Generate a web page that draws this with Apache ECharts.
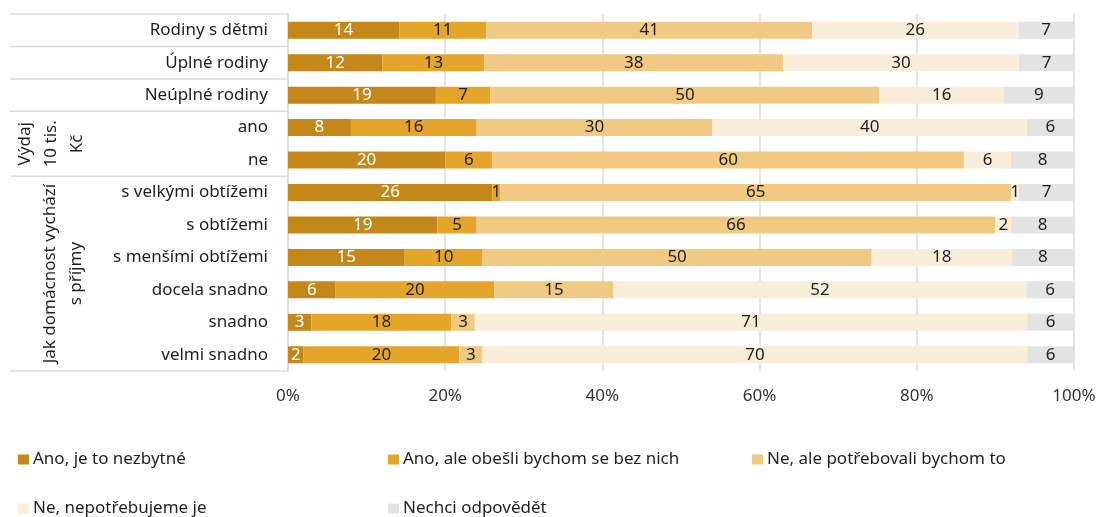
<!DOCTYPE html>
<html>
<head>
<meta charset="utf-8">
<script src="https://cdn.jsdelivr.net/npm/echarts@6/dist/echarts.min.js"></script>
<style>
  html, body { margin: 0; padding: 0; background: #fff; }
  #chart { width: 1102px; height: 517px; }
</style>
</head>
<body>
<div id="chart"></div>
<script>
const categories = ['Rodiny s dětmi', 'Úplné rodiny', 'Neúplné rodiny', 'ano', 'ne',
  's velkými obtížemi', 's obtížemi', 's menšími obtížemi', 'docela snadno', 'snadno', 'velmi snadno'];
const seriesNames = ['Ano, je to nezbytné', 'Ano, ale obešli bychom se bez nich',
  'Ne, ale potřebovali bychom to', 'Ne, nepotřebujeme je', 'Nechci odpovědět'];
const nezbytne = [14, 12, 19, 8, 20, 26, 19, 15, 6, 3, 2];
const obesli = [11, 13, 7, 16, 6, 1, 5, 10, 20, 18, 20];
const potrebovali = [41, 38, 50, 30, 60, 65, 66, 50, 15, 3, 3];
const nepotrebujeme = [26, 30, 16, 40, 6, 1, 2, 18, 52, 71, 70];
const nechci = [7, 7, 9, 6, 8, 7, 8, 8, 6, 6, 6];
const xTicks = ['0%', '20%', '40%', '60%', '80%', '100%'];
// skupiny řádků: [první index, poslední index, popisek]
const groups = [
  [3, 4, 'Výdaj\n10 tis.\nKč'],
  [5, 10, 'Jak domácnost vychází\ns příjmy']
];

const colors = ['#C38819', '#E5A52A', '#F0CA82', '#FAEEDB', '#E3E3E3'];
const labelColors = ['#ffffff', '#1f1f1f', '#1f1f1f', '#1f1f1f', '#1f1f1f'];
const FONT = 'Noto Sans';
const FS = 17;

const raw = [nezbytne, obesli, potrebovali, nepotrebujeme, nechci];
const totals = categories.map((c, i) => raw.reduce((s, arr) => s + arr[i], 0));

const chart = echarts.init(document.getElementById('chart'), null, { renderer: 'canvas' });

const gridLeft = 288, gridRight = 28, gridTop = 14, gridBottom = 146;

const legendPos = [[18, 451], [388, 451], [752, 451], [18, 500], [388, 500]];

const option = {
  animation: false,
  textStyle: { fontFamily: FONT },
  grid: { left: gridLeft, right: gridRight, top: gridTop, bottom: gridBottom, containLabel: false },
  legend: seriesNames.map((n, i) => ({
    data: [n],
    left: legendPos[i][0],
    top: legendPos[i][1],
    padding: 0,
    icon: 'rect',
    itemWidth: 11,
    itemHeight: 10,
    itemGap: 5,
    textStyle: { fontFamily: FONT, fontSize: FS, color: '#1f1f1f', padding: [0, 0, 0, -1] }
  })),
  xAxis: {
    type: 'value',
    min: 0,
    max: 100,
    interval: 20,
    axisLine: { show: false },
    axisTick: { show: false },
    splitLine: { lineStyle: { color: '#dcdcdc', width: 1.5 } },
    axisLabel: {
      fontFamily: FONT, fontSize: FS, color: '#333', margin: 17,
      formatter: (v) => xTicks[Math.round(v / 20)]
    }
  },
  yAxis: {
    type: 'category',
    inverse: true,
    data: categories,
    axisLine: { show: true, lineStyle: { color: '#dcdcdc', width: 1.5 } },
    axisTick: { show: false },
    axisLabel: { fontFamily: FONT, fontSize: FS, color: '#1f1f1f', margin: 20 }
  },
  series: seriesNames.map((name, si) => ({
    name: name,
    type: 'bar',
    stack: 'total',
    barWidth: 17,
    itemStyle: { color: colors[si] },
    label: {
      show: true,
      position: 'inside',
      fontFamily: FONT,
      fontSize: FS,
      color: labelColors[si],
      formatter: (p) => String(raw[si][p.dataIndex])
    },
    emphasis: { disabled: true },
    data: raw[si].map((v, i) => v / totals[i] * 100)
  }))
};

chart.setOption(option);

// čáry a popisky skupin v oblasti kategorií
const c0 = chart.convertToPixel({ yAxisIndex: 0 }, 0);
const c1 = chart.convertToPixel({ yAxisIndex: 0 }, 1);
const band = c1 - c0;
const edge = (i) => chart.convertToPixel({ yAxisIndex: 0 }, i) - band / 2;
const boundaries = [0, 1, 2, 3, 5, categories.length];
const graphics = boundaries.map((b) => ({
  type: 'line',
  shape: { x1: 10, y1: edge(b), x2: gridLeft, y2: edge(b) },
  style: { stroke: '#dcdcdc', lineWidth: 1.5 },
  silent: true
}));
const groupX = [51, 63];
groups.forEach((g, gi) => {
  const cy = (edge(g[0]) + edge(g[1] + 1)) / 2;
  graphics.push({
    type: 'text',
    x: groupX[gi],
    y: cy,
    rotation: Math.PI / 2,
    silent: true,
    style: {
      text: g[2],
      fontFamily: FONT,
      fontSize: FS,
      lineHeight: 26,
      fill: '#1f1f1f',
      align: 'center',
      verticalAlign: 'middle'
    }
  });
});
chart.setOption({ graphic: graphics });
</script>
</body>
</html>
